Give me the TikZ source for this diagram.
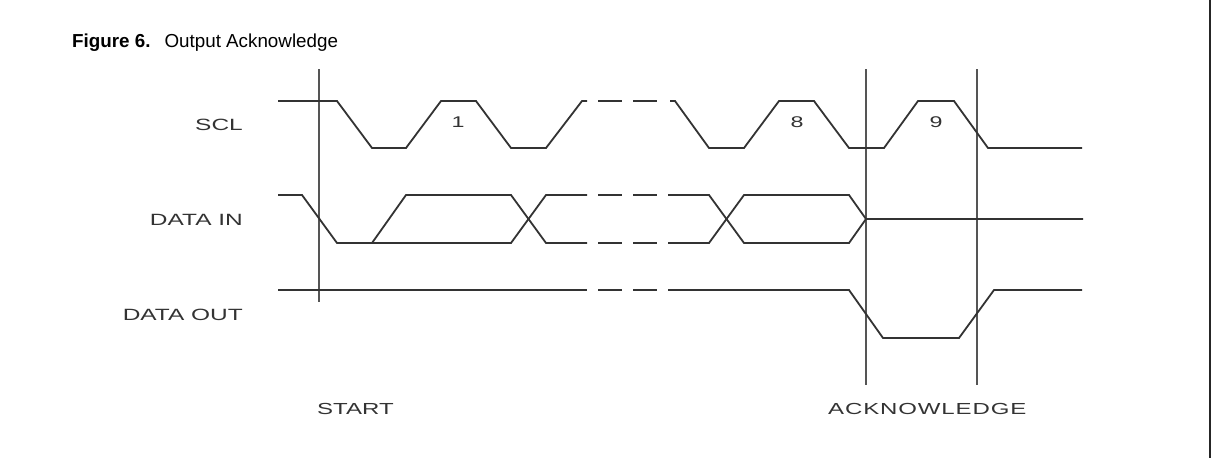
\documentclass[tikz,border=0pt]{standalone}
\usepackage{fontspec}
\setmainfont{Liberation Sans}
\newfontfamily\sigfont[FakeStretch=1.5]{Liberation Sans}
\usepackage{xcolor}
\usepackage{tikz}
\usetikzlibrary{positioning}

\definecolor{trace}{HTML}{333333}
\definecolor{guide}{HTML}{555555}

\begin{document}
\begin{tikzpicture}[
  x=1pt, y=-1pt,
  wave/.style   = {draw=trace, line width=1.8pt, line join=miter},
  guide/.style  = {draw=guide, line width=1.3pt},
  signame/.style = {anchor=east, inner sep=0pt, text=trace,
                    font=\sigfont\fontsize{16.3}{19}\selectfont},
  event/.style  = {anchor=west, inner sep=0pt, text=trace,
                   font=\sigfont\fontsize{16}{19}\selectfont},
  bitno/.style  = {inner sep=0pt, text=trace,
                   font=\sigfont\fontsize{15.5}{18}\selectfont}
]
  \useasboundingbox (0,0) rectangle (1212,458);
  \draw[line width=2pt, draw=black!85] (1210,0) -- (1210,458);

  % Title
  \node[anchor=west, inner sep=0pt, font=\fontsize{18.8}{22}\selectfont]
    (title) at (72,43) {\textbf{Figure 6.}\hspace{14pt}Output Acknowledge};

  % Signal names
  \node[signame] (scl)    at (243,124.5) {SCL};
  \node[signame] (datain) at (243,219.5) {DATA IN};
  \node[signame] (dataout) at (243,314.5) {DATA OUT};

  % Guide lines
  \draw[guide] (319,69) -- (319,302);
  \draw[guide] (866,69) -- (866,385);
  \draw[guide] (977,69) -- (977,385);

  % SCL
  \draw[wave] (278,101) -- (337,101) -- (372,148) -- (406,148) -- (441,101)
    -- (476,101) -- (511,148) -- (546,148) -- (582,101) -- (587,101);
  \draw[wave] (670,101) -- (675,101) -- (709,148) -- (744,148) -- (779,101)
    -- (814,101) -- (849,148) -- (884,148) -- (918,101) -- (954,101)
    -- (988,148) -- (1082,148);
  \node[bitno] (bit1) at (458,122.5) {1};
  \node[bitno] (bit8) at (797,122.5) {8};
  \node[bitno] (bit9) at (936,122.5) {9};

  % DATA IN
  \draw[wave] (278,195) -- (302,195) -- (337,243) -- (511,243) -- (546,195)
    -- (587,195);
  \draw[wave] (372,243) -- (406,195) -- (511,195) -- (546,243) -- (587,243);
  \draw[wave] (668,195) -- (709,195) -- (744,243) -- (849,243) -- (866,219)
    -- (1083,219);
  \draw[wave] (668,243) -- (709,243) -- (744,195) -- (849,195) -- (866,219);

  % DATA OUT
  \draw[wave] (278,290) -- (587,290);
  \draw[wave] (668,290) -- (849,290) -- (883,338) -- (959,338) -- (994,290)
    -- (1082,290);

  % broken time axis
  \foreach \y in {101,195,243,290} {
    \draw[wave] (598,\y) -- (622,\y);
    \draw[wave] (633,\y) -- (657,\y);
  }

  % Events
  \node[event] (start) at (317,409) {START};
  \node[event] (ack)   at (828,409) {\addfontfeature{LetterSpace=5.5}ACKNOWLEDGE};
\end{tikzpicture}
\end{document}
